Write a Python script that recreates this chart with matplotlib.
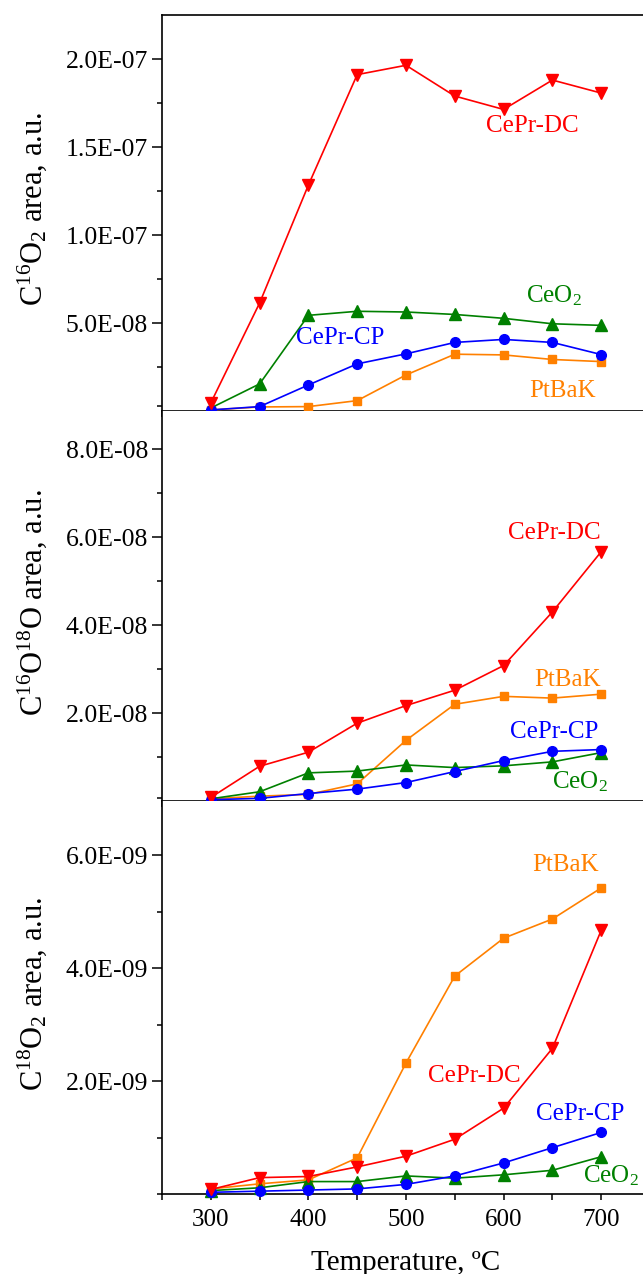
import matplotlib
matplotlib.use("Agg")
import matplotlib.pyplot as plt
from matplotlib.ticker import FixedLocator, MultipleLocator

plt.rcParams['font.family'] = ['Liberation Serif', 'DejaVu Serif']
plt.rcParams['mathtext.fontset'] = 'custom'
plt.rcParams['mathtext.rm'] = 'Liberation Serif'
plt.rcParams['mathtext.it'] = 'Liberation Serif:italic'

# ---------------- data ----------------
temperature = [300, 350, 400, 450, 500, 550, 600, 650, 700]
series_names = ["PtBaK", "CeO2", "CePr-CP", "CePr-DC"]

# C16O2 area (a.u.)
c16o2_ptbak = [0.06e-8, 0.23e-8, 0.25e-8, 0.59e-8, 2.05e-8, 3.23e-8, 3.19e-8, 2.93e-8, 2.81e-8]
c16o2_ceo2 = [0.17e-8, 1.54e-8, 5.44e-8, 5.67e-8, 5.63e-8, 5.49e-8, 5.27e-8, 4.96e-8, 4.87e-8]
c16o2_ceprcp = [0.06e-8, 0.25e-8, 1.48e-8, 2.68e-8, 3.25e-8, 3.90e-8, 4.07e-8, 3.90e-8, 3.21e-8]
c16o2_ceprdc = [0.46e-8, 6.14e-8, 12.85e-8, 19.13e-8, 19.66e-8, 17.91e-8, 17.15e-8, 18.82e-8, 18.08e-8]

# C16O18O area (a.u.)
c16o18o_ptbak = [0.05e-8, 0.11e-8, 0.15e-8, 0.39e-8, 1.38e-8, 2.20e-8, 2.38e-8, 2.34e-8, 2.43e-8]
c16o18o_ceo2 = [0.05e-8, 0.21e-8, 0.64e-8, 0.68e-8, 0.82e-8, 0.76e-8, 0.80e-8, 0.89e-8, 1.10e-8]
c16o18o_ceprcp = [0.03e-8, 0.06e-8, 0.17e-8, 0.27e-8, 0.42e-8, 0.67e-8, 0.92e-8, 1.13e-8, 1.17e-8]
c16o18o_ceprdc = [0.08e-8, 0.79e-8, 1.11e-8, 1.77e-8, 2.17e-8, 2.52e-8, 3.08e-8, 4.30e-8, 5.67e-8]

# C18O2 area (a.u.)
c18o2_ptbak = [0.09e-9, 0.18e-9, 0.25e-9, 0.64e-9, 2.32e-9, 3.86e-9, 4.53e-9, 4.87e-9, 5.42e-9]
c18o2_ceo2 = [0.06e-9, 0.11e-9, 0.22e-9, 0.22e-9, 0.32e-9, 0.28e-9, 0.34e-9, 0.42e-9, 0.66e-9]
c18o2_ceprcp = [0.03e-9, 0.05e-9, 0.07e-9, 0.09e-9, 0.17e-9, 0.32e-9, 0.55e-9, 0.82e-9, 1.09e-9]
c18o2_ceprdc = [0.08e-9, 0.29e-9, 0.31e-9, 0.48e-9, 0.67e-9, 0.97e-9, 1.52e-9, 2.58e-9, 4.67e-9]

ylabels = [r"C$^{16}$O$_2$ area, a.u.", r"C$^{16}$O$^{18}$O area, a.u.", r"C$^{18}$O$_2$ area, a.u."]
major_ticks = [[5e-8, 1.0e-7, 1.5e-7, 2.0e-7], [2e-8, 4e-8, 6e-8, 8e-8], [2e-9, 4e-9, 6e-9]]
major_labels = [["5.0E-08", "1.0E-07", "1.5E-07", "2.0E-07"],
                ["2.0E-08", "4.0E-08", "6.0E-08", "8.0E-08"],
                ["2.0E-09", "4.0E-09", "6.0E-09"]]
minor_ticks = [[0.3e-8, 2.5e-8, 7.5e-8, 12.5e-8, 17.5e-8],
               [0.07e-8, 1e-8, 3e-8, 5e-8, 7e-8],
               [0.0, 1e-9, 3e-9, 5e-9]]
ylims = [(0, 2.252e-7), (0, 8.87e-8), (0, 6.96e-9)]

# label placements (temperature, value) per panel
label_text = {"PtBaK": "PtBaK", "CeO2": r"CeO$_2$", "CePr-CP": "CePr-CP", "CePr-DC": "CePr-DC"}
label_pos = [
    {"CePr-DC": (629, 16.2e-8), "CeO2": (652, 6.55e-8), "CePr-CP": (433, 4.14e-8), "PtBaK": (660, 1.12e-8)},
    {"CePr-DC": (652, 6.09e-8), "PtBaK": (666, 2.76e-8), "CePr-CP": (652, 1.57e-8), "CeO2": (678, 0.45e-8)},
    {"PtBaK": (663, 5.83e-9), "CePr-DC": (570, 2.09e-9), "CePr-CP": (678, 1.41e-9), "CeO2": (710, 0.32e-9)},
]

colors = {"PtBaK": "#FF8000", "CeO2": "#008000", "CePr-CP": "#0000FF", "CePr-DC": "#FF0000"}
markers = {"PtBaK": "s", "CeO2": "^", "CePr-CP": "o", "CePr-DC": "v"}
msizes = {"PtBaK": 5.8, "CeO2": 8, "CePr-CP": 7, "CePr-DC": 8.5}

panels = [
    {"PtBaK": c16o2_ptbak, "CeO2": c16o2_ceo2, "CePr-CP": c16o2_ceprcp, "CePr-DC": c16o2_ceprdc},
    {"PtBaK": c16o18o_ptbak, "CeO2": c16o18o_ceo2, "CePr-CP": c16o18o_ceprcp, "CePr-DC": c16o18o_ceprdc},
    {"PtBaK": c18o2_ptbak, "CeO2": c18o2_ceo2, "CePr-CP": c18o2_ceprcp, "CePr-DC": c18o2_ceprdc},
]

# ---------------- figure ----------------
W, H = 643, 1274
fig = plt.figure(figsize=(W / 100, H / 100), dpi=100)

left_px, right_px = 162, 650
panel_px = [(15, 411), (411, 801), (801, 1194)]

axes = []
for i, (top, bot) in enumerate(panel_px):
    ax = fig.add_axes([left_px / W, (H - bot) / H, (right_px - left_px) / W, (bot - top) / H])
    axes.append(ax)
    for name in series_names:
        ax.plot(temperature, panels[i][name], color=colors[name], marker=markers[name],
                markersize=msizes[name], linewidth=1.2, clip_on=False, zorder=3)
    ax.set_xlim(250, 750)
    ax.set_ylim(*ylims[i])
    ax.yaxis.set_major_locator(FixedLocator(major_ticks[i]))
    ax.set_yticklabels(major_labels[i])
    ax.yaxis.set_minor_locator(FixedLocator(minor_ticks[i]))
    ax.xaxis.set_major_locator(MultipleLocator(100))
    ax.xaxis.set_minor_locator(MultipleLocator(50))
    ax.tick_params(axis='y', which='major', direction='out', length=7, width=1.1, labelsize=18.5, pad=3)
    ax.tick_params(axis='y', which='minor', direction='out', length=3.5, width=1.1)
    ax.tick_params(axis='x', which='both', direction='out', length=4.5, width=1.1, labelsize=18, pad=6)
    for s in ['left', 'bottom', 'top']:
        ax.spines[s].set_linewidth(1.2)
    ax.spines['right'].set_visible(False)
    if i < 2:
        ax.tick_params(axis='x', labelbottom=False)
    ax.set_ylabel(ylabels[i], fontsize=22)
    ax.yaxis.set_label_coords(-0.232, 0.51)
    for name, (tx, ty) in label_pos[i].items():
        ax.text(tx, ty, label_text[name], color=colors[name], fontsize=18, ha='center', va='center')

axes[2].set_xlabel("Temperature, ºC", fontsize=21, labelpad=14)
axes[1].spines['top'].set_visible(False)
axes[2].spines['top'].set_visible(False)

fig.savefig("out.png", dpi=100)
